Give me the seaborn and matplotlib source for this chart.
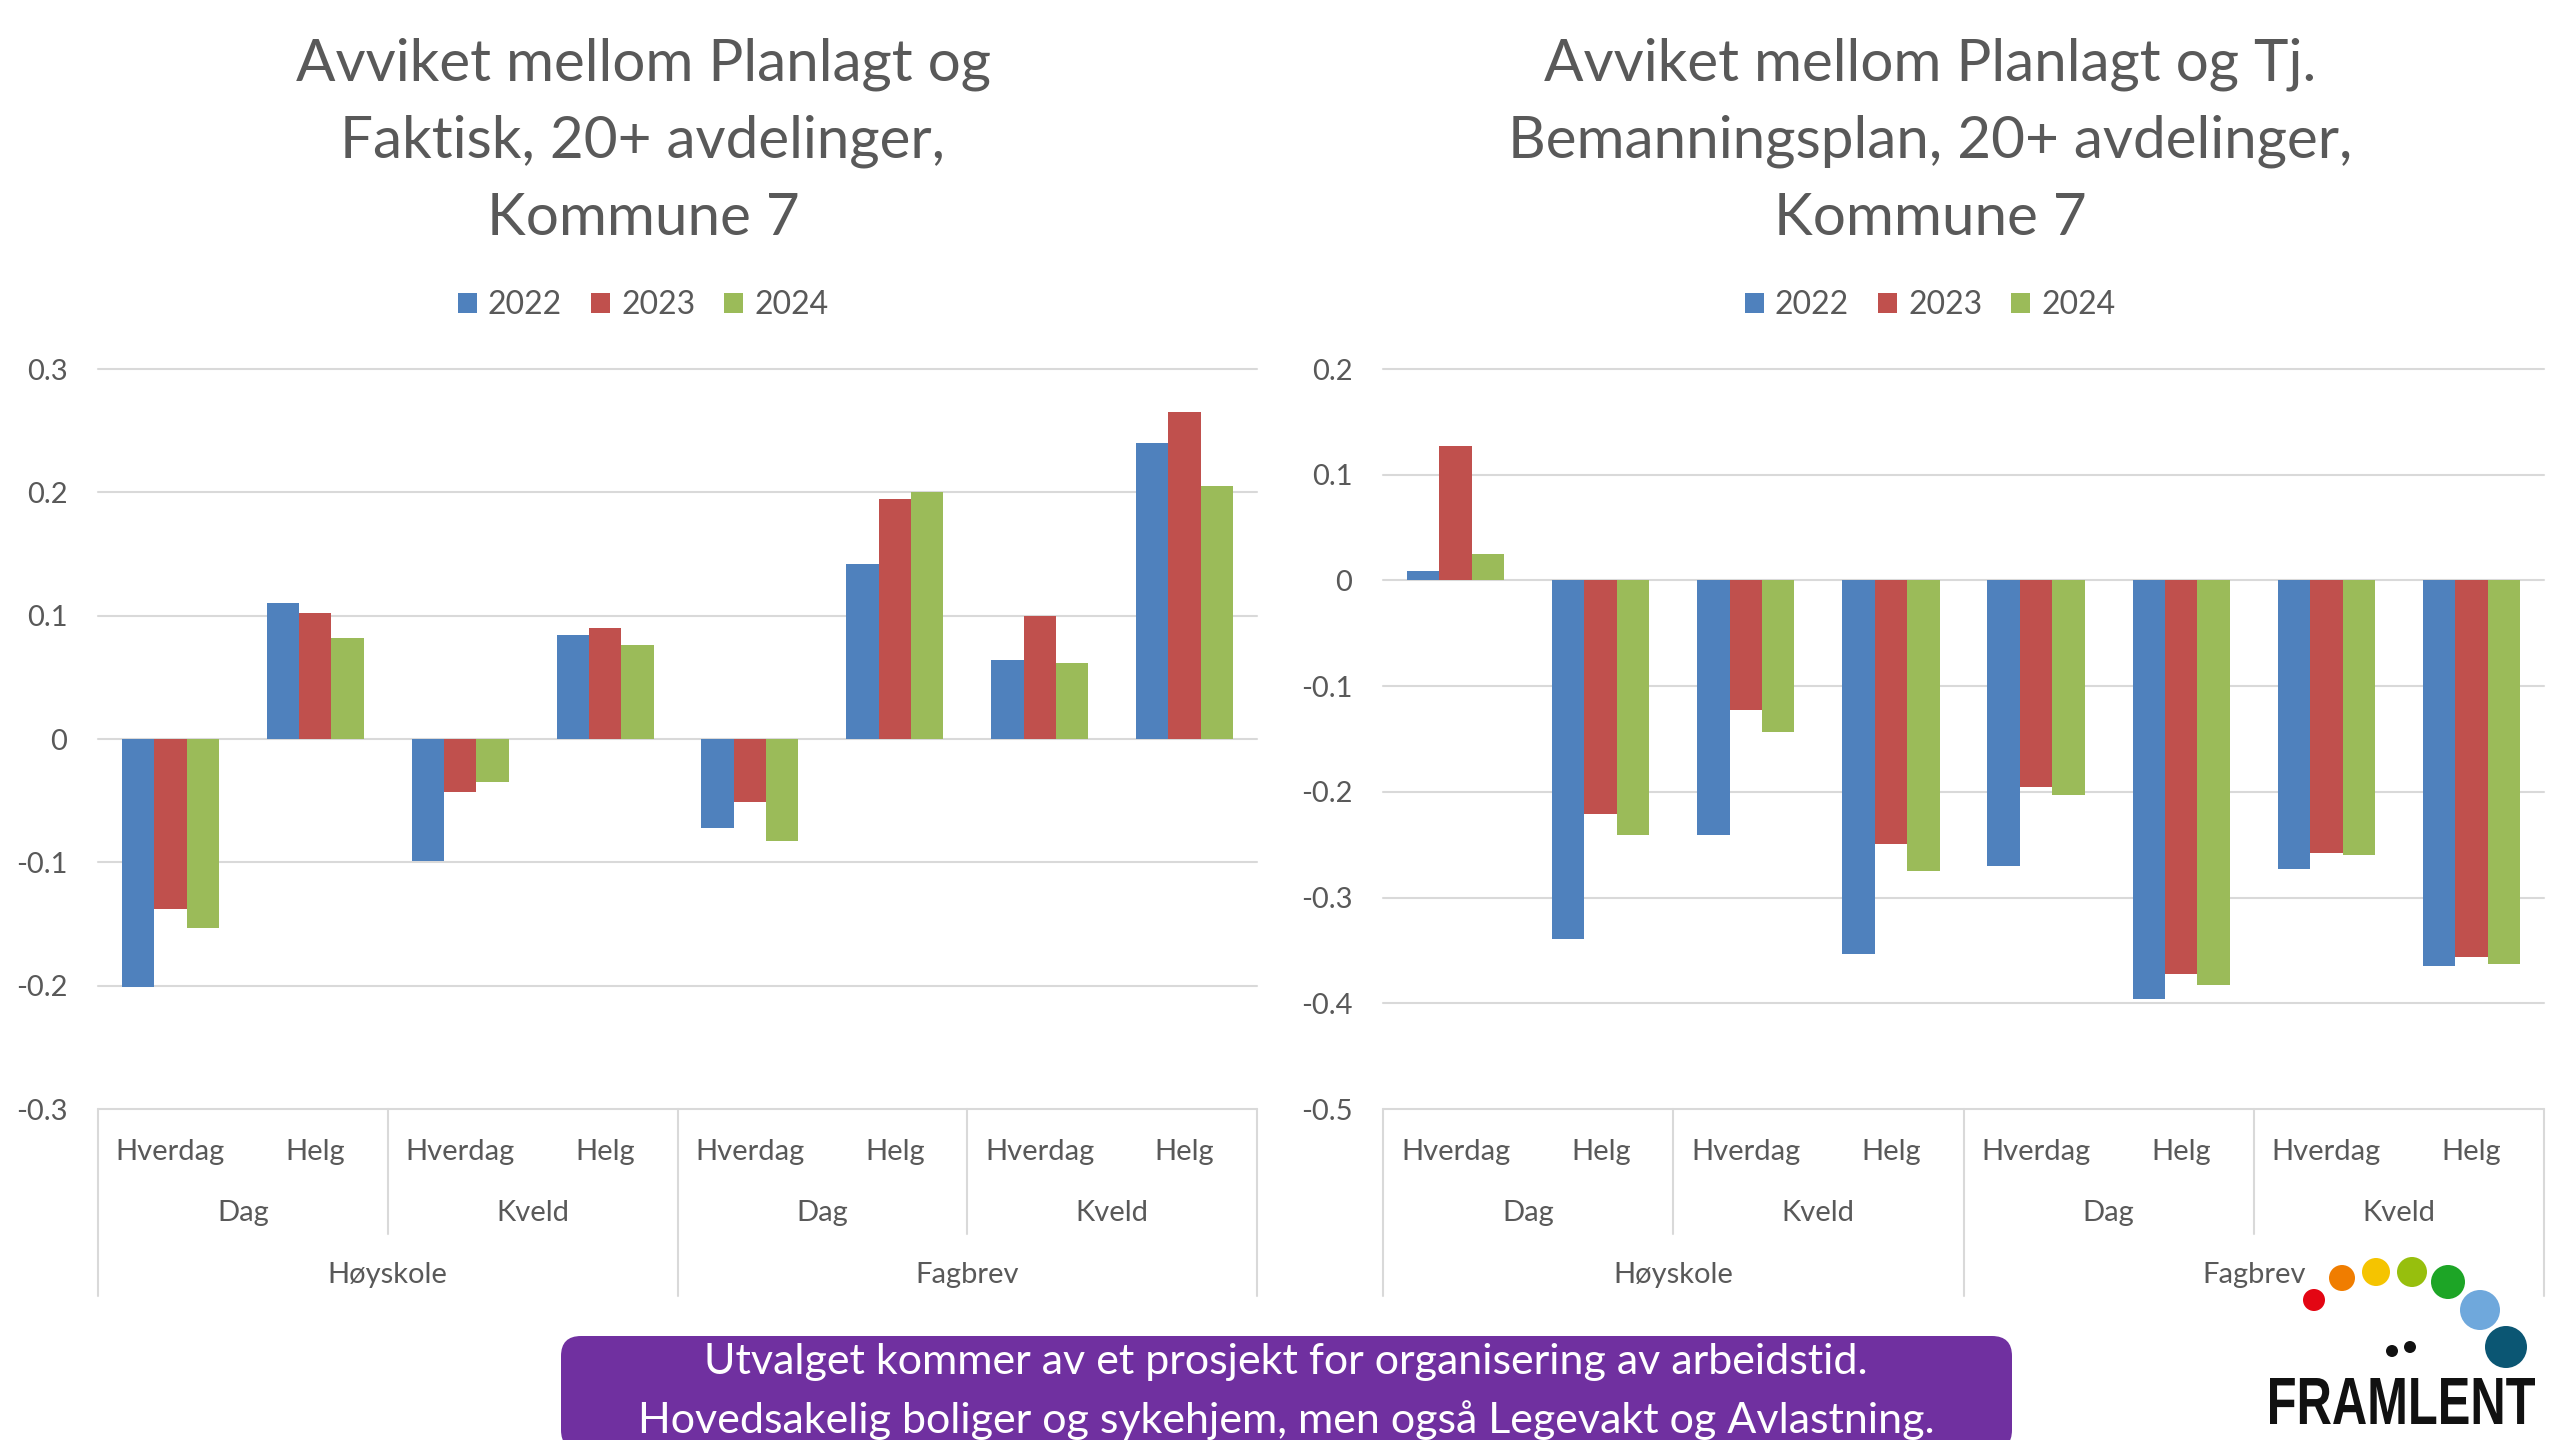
import pandas as pd
import matplotlib
matplotlib.use('Agg')
import matplotlib.pyplot as plt
import matplotlib.transforms as mtransforms
from matplotlib.patches import FancyBboxPatch, Patch, Circle, PathPatch
from matplotlib.textpath import TextPath
from matplotlib.font_manager import FontProperties
import seaborn as sns

# Data
aar = ['2022', '2023', '2024']
utdanning = ['Høyskole', 'Fagbrev']
vakt = ['Dag', 'Kveld']
dagtype = ['Hverdag', 'Helg']

faktisk_2022 = [-0.201, 0.110, -0.099, 0.084, -0.072, 0.142, 0.064, 0.240]
faktisk_2023 = [-0.138, 0.102, -0.043, 0.090, -0.051, 0.195, 0.100, 0.265]
faktisk_2024 = [-0.153, 0.082, -0.035, 0.076, -0.083, 0.200, 0.062, 0.205]

tj_2022 = [0.009, -0.339, -0.241, -0.353, -0.270, -0.396, -0.273, -0.365]
tj_2023 = [0.127, -0.221, -0.123, -0.249, -0.195, -0.372, -0.258, -0.356]
tj_2024 = [0.025, -0.241, -0.143, -0.275, -0.203, -0.383, -0.260, -0.363]

tittel_venstre = 'Avviket mellom Planlagt og\nFaktisk, 20+ avdelinger,\nKommune 7'
tittel_hoyre = 'Avviket mellom Planlagt og Tj.\nBemanningsplan, 20+ avdelinger,\nKommune 7'
fotnote = ['Utvalget kommer av et prosjekt for organisering av arbeidstid.',
           'Hovedsakelig boliger og sykehjem, men også Legevakt og Avlastning.']

farger = ['#4F81BD', '#C0504D', '#9BBB59']
grå = '#595959'
linjegrå = '#D9D9D9'

sns.set_theme(style='white')
plt.rcParams['font.family'] = ['Lato', 'DejaVu Sans']

kategorier = [f'{u}|{v}|{d}' for u in utdanning for v in vakt for d in dagtype]


def lag_tabell(serier):
    rader = []
    for a, verdier in zip(aar, serier):
        for k, v in zip(kategorier, verdier):
            rader.append({'kategori': k, 'år': a, 'verdi': v})
    return pd.DataFrame(rader)


def tegn(ax, serier, ymin, ymax, tittel, xsenter):
    df = lag_tabell(serier)
    sns.barplot(data=df, x='kategori', y='verdi', hue='år', order=kategorier,
                hue_order=aar, palette=farger, saturation=1, width=0.67,
                legend=False, ax=ax, edgecolor='none', linewidth=0)
    ax.set_xlim(-0.5, len(kategorier) - 0.5)
    ax.set_ylim(ymin, ymax)
    ticks = [round(ymin + 0.1 * i, 1) for i in range(int(round((ymax - ymin) / 0.1)) + 1)]
    ax.set_yticks(ticks)
    ax.set_yticklabels(['0' if abs(t) < 1e-9 else f'{t:.1f}' for t in ticks],
                       fontsize=21, color=grå)
    ax.tick_params(axis='y', length=0, pad=22)
    ax.set_xticks([])
    ax.set_xlabel('')
    ax.set_ylabel('')
    for s in ax.spines.values():
        s.set_visible(False)
    ax.set_axisbelow(True)
    for t in ticks:
        ax.axhline(t, color=linjegrå, lw=1.5, zorder=0, clip_on=False)

    # multi-level category axis
    trans = mtransforms.blended_transform_factory(ax.transData, ax.transAxes)
    for i, k in enumerate(kategorier):
        ax.text(i, -0.058, k.split('|')[2], transform=trans, ha='center',
                va='center', fontsize=21, color=grå)
    for j in range(4):
        ax.text(2 * j + 0.5, -0.14, vakt[j % 2], transform=trans, ha='center',
                va='center', fontsize=21, color=grå)
    for m in range(2):
        ax.text(4 * m + 1.5, -0.224, utdanning[m], transform=trans, ha='center',
                va='center', fontsize=21, color=grå)
    for x in [-0.5, 3.5, 7.5]:
        ax.plot([x, x], [0, -0.253], transform=trans, color=linjegrå, lw=1.5, clip_on=False)
    for x in [1.5, 5.5]:
        ax.plot([x, x], [0, -0.169], transform=trans, color=linjegrå, lw=1.5, clip_on=False)

    fig.text(xsenter, 1 - 141 / 1440, tittel, ha='center', va='center',
             multialignment='center', fontsize=42, color=grå, linespacing=1.55)
    handles = [Patch(facecolor=c, edgecolor='none') for c in farger]
    fig.legend(handles, aar, loc='center', bbox_to_anchor=(xsenter, 1 - 305 / 1440),
               ncol=3, frameon=False, fontsize=23, handlelength=0.6, handleheight=0.6,
               handletextpad=0.35, columnspacing=0.9, labelcolor=grå)


fig = plt.figure(figsize=(25.6, 14.4), dpi=100)
fig.patch.set_facecolor('white')

ax1 = fig.add_axes([98 / 2560, 1 - 1109 / 1440, 1159 / 2560, 740 / 1440])
ax2 = fig.add_axes([1383 / 2560, 1 - 1109 / 1440, 1161 / 2560, 740 / 1440])

tegn(ax1, [faktisk_2022, faktisk_2023, faktisk_2024], -0.3, 0.3, tittel_venstre, 643 / 2560)
tegn(ax2, [tj_2022, tj_2023, tj_2024], -0.5, 0.2, tittel_hoyre, 1930 / 2560)

# purple footnote box
boks = FancyBboxPatch((561, -10), 1451, 114, boxstyle='round,pad=0,rounding_size=20',
                      transform=mtransforms.IdentityTransform(),
                      facecolor='#7030A0', edgecolor='none')
fig.add_artist(boks)
fig.text(1286 / 2560, 1 - 1362 / 1440, fotnote[0], ha='center', va='center',
         fontsize=31, color='white')
fig.text(1286 / 2560, 1 - 1420 / 1440, fotnote[1], ha='center', va='center',
         fontsize=31, color='white')

# logo
lax = fig.add_axes([2250 / 2560, 0, 310 / 2560, 200 / 1440])
lax.set_xlim(2250, 2560)
lax.set_ylim(1440, 1240)
lax.set_aspect('equal')
lax.axis('off')
prikker = [(2314, 1300, 11, '#E30613'), (2342, 1278, 13, '#F07D00'),
           (2376, 1272, 14, '#F5C400'), (2412, 1272, 15, '#97BF0D'),
           (2448, 1282, 17, '#1DA526'), (2480, 1310, 20, '#6FA8DC'),
           (2506, 1347, 21, '#0B5673')]
for x, y, r, c in prikker:
    lax.add_patch(Circle((x, y), r, facecolor=c, edgecolor='none'))
for x, y in [(2392, 1351), (2410, 1347)]:
    lax.add_patch(Circle((x, y), 6, facecolor='#111111', edgecolor='none'))
tp = TextPath((0, 0), 'FRAMLENT', size=1,
              prop=FontProperties(family='Liberation Sans', weight='bold'))
bb = tp.get_extents()
trafo = (mtransforms.Affine2D().translate(-bb.x0, -bb.y0)
         .scale(265 / bb.width, -46 / bb.height).translate(2270, 1424))
lax.add_patch(PathPatch(trafo.transform_path(tp), facecolor='#111111', edgecolor='none'))

fig.savefig('out.png', dpi=100, facecolor='white')
